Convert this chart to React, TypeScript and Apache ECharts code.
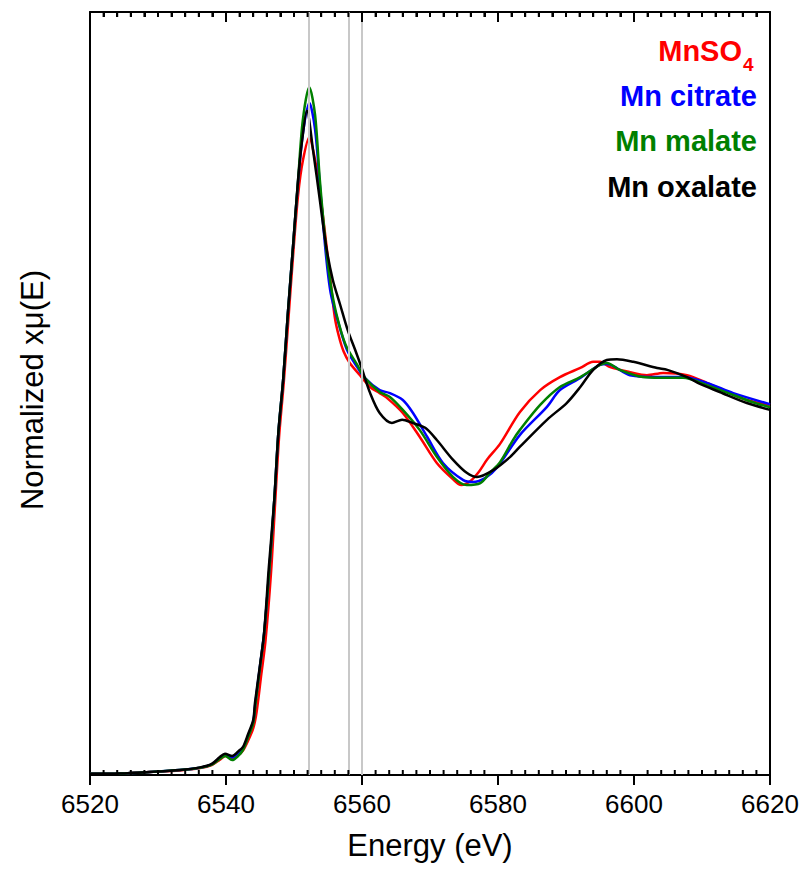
import React, { useEffect, useRef } from "react";
import * as echarts from "echarts";

const ENERGY_MIN = 6520;
const ENERGY_MAX = 6620;
const MU_MIN = 0;
const MU_MAX = 2;
const xMajorTicks = [6520, 6540, 6560, 6580, 6600, 6620];
const MINOR_STEP = 2;
const refLines = [6552.2, 6558.0, 6560.0];

const seriesNames = ["MnSO4", "Mn citrate", "Mn malate", "Mn oxalate"];
const seriesColors = ["#ff0000", "#0000ff", "#008000", "#000000"];

const mnso4: [number, number][] = [
  [6520.0, 0.003], [6524.4, 0.004], [6528.8, 0.008], [6533.2, 0.012], [6536.2, 0.018],
  [6537.9, 0.026], [6539.1, 0.040], [6539.9, 0.050], [6540.9, 0.044], [6541.8, 0.052],
  [6542.5, 0.064], [6543.2, 0.088], [6544.0, 0.122], [6544.5, 0.165], [6545.2, 0.265],
  [6545.8, 0.350], [6546.6, 0.525], [6547.2, 0.705], [6547.8, 0.885], [6548.5, 1.030],
  [6549.2, 1.200], [6549.9, 1.370], [6550.6, 1.520], [6551.3, 1.610], [6552.25, 1.672],
  [6553.1, 1.612], [6553.7, 1.545], [6554.8, 1.384], [6555.4, 1.290], [6556.0, 1.200],
  [6556.6, 1.150], [6557.3, 1.110], [6558.2, 1.080], [6559.7, 1.048], [6561.2, 1.017],
  [6562.6, 1.001], [6563.7, 0.988], [6566.0, 0.949], [6568.5, 0.886], [6571.0, 0.818],
  [6573.4, 0.775], [6574.6, 0.760], [6575.9, 0.770], [6577.2, 0.795], [6578.4, 0.827],
  [6580.3, 0.868], [6583.2, 0.951], [6586.2, 1.009], [6589.1, 1.043], [6592.1, 1.067],
  [6594.0, 1.083], [6595.0, 1.083], [6596.5, 1.069], [6599.4, 1.056], [6601.9, 1.048],
  [6604.3, 1.054], [6607.8, 1.048], [6610.7, 1.028], [6613.7, 1.004], [6616.6, 0.983],
  [6620.0, 0.970],
];

const mnCitrate: [number, number][] = [
  [6520.0, 0.003], [6524.4, 0.004], [6528.8, 0.008], [6533.2, 0.013], [6536.2, 0.019],
  [6537.9, 0.028], [6539.1, 0.045], [6539.9, 0.054], [6540.9, 0.046], [6541.8, 0.058],
  [6542.5, 0.069], [6543.2, 0.100], [6544.0, 0.140], [6544.3, 0.185], [6545.0, 0.286],
  [6545.6, 0.371], [6546.4, 0.545], [6547.1, 0.721], [6547.7, 0.897], [6548.4, 1.035],
  [6549.1, 1.211], [6549.85, 1.384], [6550.6, 1.555], [6551.3, 1.680], [6552.25, 1.762],
  [6553.1, 1.692], [6553.8, 1.547], [6554.7, 1.363], [6555.4, 1.263], [6556.5, 1.187],
  [6557.8, 1.114], [6559.3, 1.069], [6560.4, 1.041], [6562.6, 1.009], [6564.1, 1.001],
  [6566.0, 0.983], [6567.5, 0.949], [6569.6, 0.886], [6571.9, 0.818], [6574.9, 0.773],
  [6576.3, 0.768], [6578.1, 0.778], [6579.9, 0.807], [6583.2, 0.891], [6587.2, 0.965],
  [6589.1, 1.009], [6592.1, 1.041], [6595.0, 1.075], [6596.0, 1.077], [6599.4, 1.048],
  [6603.8, 1.043], [6607.2, 1.043], [6610.7, 1.028], [6614.6, 1.001], [6620.0, 0.972],
];

const mnMalate: [number, number][] = [
  [6520.0, 0.003], [6524.4, 0.004], [6528.8, 0.008], [6533.2, 0.013], [6536.2, 0.019],
  [6537.9, 0.027], [6539.1, 0.042], [6539.9, 0.050], [6540.9, 0.039], [6541.8, 0.050],
  [6542.5, 0.066], [6543.2, 0.097], [6544.0, 0.136], [6544.3, 0.180], [6545.0, 0.283],
  [6545.6, 0.370], [6546.4, 0.545], [6547.1, 0.721], [6547.7, 0.897], [6548.4, 1.035],
  [6549.1, 1.211], [6549.85, 1.384], [6550.6, 1.560], [6551.3, 1.717], [6552.25, 1.803],
  [6553.1, 1.730], [6553.8, 1.560], [6554.7, 1.384], [6555.4, 1.285], [6556.2, 1.211],
  [6557.6, 1.127], [6559.3, 1.075], [6560.4, 1.041], [6562.6, 1.004], [6564.1, 0.991],
  [6566.0, 0.957], [6568.5, 0.904], [6571.0, 0.834], [6573.4, 0.781], [6575.4, 0.760],
  [6577.4, 0.765], [6578.8, 0.792], [6580.3, 0.820], [6582.2, 0.878], [6583.2, 0.904],
  [6586.2, 0.970], [6589.1, 1.017], [6592.1, 1.043], [6595.0, 1.075], [6596.0, 1.080],
  [6597.9, 1.062], [6601.3, 1.043], [6603.8, 1.041], [6607.2, 1.041], [6610.7, 1.022],
  [6614.6, 0.996], [6617.5, 0.977], [6620.0, 0.964],
];

const mnOxalate: [number, number][] = [
  [6520.0, 0.003], [6524.4, 0.004], [6528.8, 0.008], [6533.2, 0.013], [6536.2, 0.020],
  [6537.9, 0.029], [6539.1, 0.047], [6539.85, 0.056], [6540.9, 0.050], [6541.8, 0.062],
  [6542.5, 0.074], [6543.2, 0.105], [6544.0, 0.144], [6544.26, 0.189], [6545.0, 0.288],
  [6545.6, 0.372], [6546.3, 0.545], [6547.1, 0.721], [6547.7, 0.897], [6548.4, 1.035],
  [6549.1, 1.211], [6549.85, 1.384], [6550.6, 1.560], [6551.2, 1.664], [6551.9, 1.741],
  [6552.8, 1.638], [6553.8, 1.507], [6554.7, 1.389], [6555.7, 1.298], [6556.8, 1.232],
  [6557.9, 1.166], [6559.0, 1.114], [6559.85, 1.072], [6561.2, 1.001], [6562.6, 0.949],
  [6564.4, 0.923], [6565.9, 0.931], [6567.4, 0.923], [6569.3, 0.910], [6571.0, 0.878],
  [6573.4, 0.826], [6575.4, 0.792], [6576.9, 0.781], [6579.3, 0.799], [6581.8, 0.834],
  [6583.2, 0.860], [6587.2, 0.931], [6590.1, 0.975], [6592.1, 1.017], [6594.0, 1.062],
  [6596.0, 1.088], [6597.5, 1.090], [6599.9, 1.083], [6603.4, 1.067], [6604.9, 1.062],
  [6607.8, 1.043], [6609.7, 1.025], [6612.6, 1.004], [6616.6, 0.975], [6620.0, 0.957],
];

const seriesData = [mnso4, mnCitrate, mnMalate, mnOxalate];

const FONT = '"Liberation Sans", Arial, Helvetica, sans-serif';

function tickSeries(name: string, data: number[][], h: number, offsetY: number) {
  return {
    type: "scatter",
    name,
    xAxisIndex: 0,
    yAxisIndex: 0,
    data,
    silent: true,
    clip: false,
    z: 10,
    symbol: "rect",
    symbolSize: [2, h],
    symbolOffset: [0, offsetY],
    itemStyle: { color: "#000", opacity: 1 },
    emphasis: { disabled: true },
  };
}

export default function App() {
  const ref = useRef<HTMLDivElement>(null);

  useEffect(() => {
    if (!ref.current) return;
    const chart = echarts.init(ref.current, undefined, { renderer: "svg" });

    const majorBottom: number[][] = [];
    const majorTop: number[][] = [];
    const minorBottom: number[][] = [];
    const minorTop: number[][] = [];
    for (let e = ENERGY_MIN; e <= ENERGY_MAX; e += MINOR_STEP) {
      if (xMajorTicks.includes(e)) {
        majorBottom.push([e, MU_MIN]);
        majorTop.push([e, MU_MAX]);
      } else {
        minorBottom.push([e, MU_MIN]);
        minorTop.push([e, MU_MAX]);
      }
    }

    const legendText = (text: string, color: string, x: number, y: number, size: number, align: string) => ({
      type: "text",
      x,
      y,
      z: 100,
      style: {
        text,
        fill: color,
        font: `bold ${size}px ${FONT}`,
        textAlign: align,
        textVerticalAlign: "middle",
      },
    });

    const lineStyle = () => ({ color: "#000", width: 2 });

    const option: any = {
      animation: false,
      grid: { left: 90, right: 33, top: 12, bottom: 113, outerBoundsMode: "none" },
      xAxis: [
        {
          type: "value",
          min: ENERGY_MIN,
          max: ENERGY_MAX,
          interval: 20,
          position: "bottom",
          axisLine: { show: true, onZero: false, lineStyle: lineStyle() },
          axisTick: { show: true, length: 10, lineStyle: lineStyle() },
          minorTick: { show: true, splitNumber: 10, length: 1, lineStyle: { color: "rgba(0,0,0,0)", width: 1 } },
          axisLabel: {
            show: true,
            fontSize: 26,
            color: "#000",
            margin: 16,
            fontFamily: FONT,
            formatter: (v: number) => String(v),
          },
          splitLine: { show: false },
        },
        {
          type: "value",
          min: ENERGY_MIN,
          max: ENERGY_MAX,
          interval: 20,
          position: "top",
          axisLine: { show: true, onZero: false, lineStyle: lineStyle() },
          axisTick: { show: true, inside: true, length: 10, lineStyle: lineStyle() },
          minorTick: { show: true, splitNumber: 10, length: 5, lineStyle: lineStyle() },
          axisLabel: { show: false },
          splitLine: { show: false },
        },
      ],
      yAxis: [
        {
          type: "value",
          min: MU_MIN,
          max: MU_MAX,
          position: "left",
          axisLine: { show: true, onZero: false, lineStyle: lineStyle() },
          axisTick: { show: false },
          axisLabel: { show: false },
          splitLine: { show: false },
        },
        {
          type: "value",
          min: MU_MIN,
          max: MU_MAX,
          position: "right",
          axisLine: { show: true, onZero: false, lineStyle: lineStyle() },
          axisTick: { show: false },
          axisLabel: { show: false },
          splitLine: { show: false },
        },
      ],
      series: [
        {
          type: "line",
          name: "refs",
          xAxisIndex: 0,
          yAxisIndex: 0,
          data: [],
          silent: true,
          markLine: {
            silent: true,
            symbol: ["none", "none"],
            label: { show: false },
            lineStyle: { color: "#c8c8c8", width: 2, type: "solid" },
            data: refLines.map((e) => ({ xAxis: e })),
          },
        },
        ...seriesData.map((d, i) => ({
          type: "line",
          name: seriesNames[i],
          xAxisIndex: 0,
          yAxisIndex: 0,
          data: d,
          showSymbol: false,
          symbol: "none",
          smooth: 0.3,
          lineStyle: { color: seriesColors[i], width: 2.5 },
          itemStyle: { color: seriesColors[i] },
        })),
        tickSeries("tick-major-bottom", majorBottom, 10, 5),
        tickSeries("tick-minor-bottom", minorBottom, 5, -2.5),
        tickSeries("tick-major-top", majorTop, 10, 5),
        tickSeries("tick-minor-top", minorTop, 5, 2.5),
      ],
      graphic: [
        legendText("MnSO", seriesColors[0], 742, 51, 29, "right"),
        legendText("4", seriesColors[0], 743, 64, 19, "left"),
        legendText(seriesNames[1], seriesColors[1], 757, 96, 29, "right"),
        legendText(seriesNames[2], seriesColors[2], 757, 141, 29, "right"),
        legendText(seriesNames[3], seriesColors[3], 757, 187, 29, "right"),
        {
          type: "text",
          x: 430,
          y: 845,
          style: {
            text: "Energy (eV)",
            fill: "#000",
            font: `31px ${FONT}`,
            textAlign: "center",
            textVerticalAlign: "middle",
          },
        },
        {
          type: "text",
          x: 32,
          y: 390,
          rotation: Math.PI / 2,
          style: {
            text: "Normalized xμ(E)",
            fill: "#000",
            font: `31px ${FONT}`,
            textAlign: "center",
            textVerticalAlign: "middle",
          },
        },
      ],
    };

    chart.setOption(option);
    return () => chart.dispose();
  }, []);

  return (
    <div
      ref={ref}
      style={{ position: "absolute", left: 0, top: 0, width: 803, height: 888 }}
    />
  );
}
